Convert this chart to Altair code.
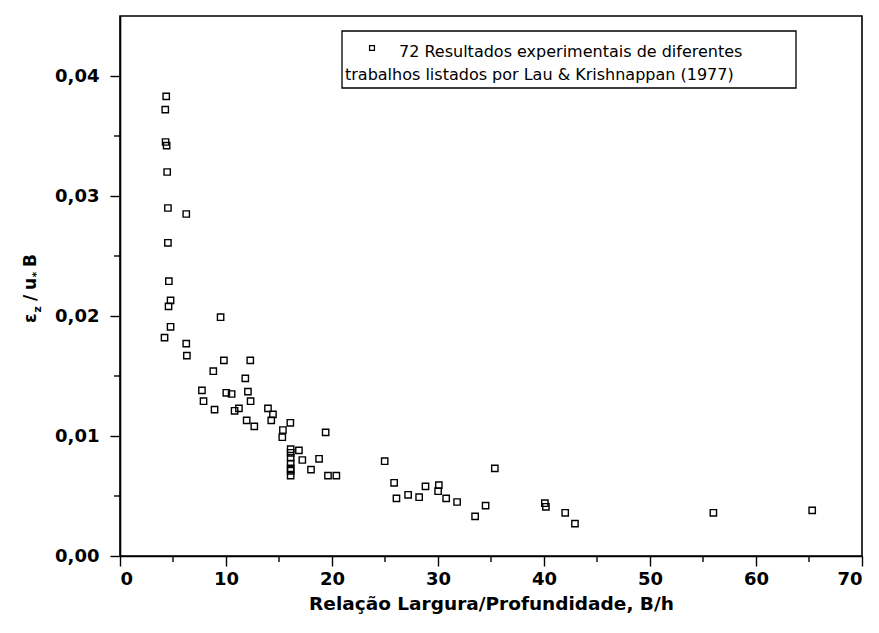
import altair as alt
import pandas as pd

# Width/depth ratio B/h and normalised transverse mixing coefficient eps_z/(u* B)
ratio_bh = [
    4.36, 4.27, 4.30, 4.40, 4.45, 4.52, 6.25, 4.52, 4.61, 4.77,
    4.58, 9.49, 4.77, 4.20, 6.25, 6.31, 9.80, 12.29, 8.80, 11.82,
    7.73, 10.03, 10.53, 12.07, 12.32, 7.88, 8.92, 10.81, 11.22, 13.96,
    14.43, 11.95, 14.27, 12.67, 16.07, 15.37, 15.31, 19.40, 16.10, 16.10,
    16.10, 16.10, 16.10, 16.10, 16.10, 16.88, 17.20, 18.78, 18.02, 19.62,
    20.41, 24.97, 25.86, 26.08, 27.18, 28.22, 28.82, 30.08, 30.01, 30.77,
    31.80, 35.36, 33.50, 34.49, 40.08, 40.18, 42.00, 42.92, 55.98, 65.30,
]
eps_norm = [
    0.0383, 0.0372, 0.0345, 0.0342, 0.0320, 0.0290, 0.0285, 0.0261, 0.0229, 0.0213,
    0.0208, 0.0199, 0.0191, 0.0182, 0.0177, 0.0167, 0.0163, 0.0163, 0.0154, 0.0148,
    0.0138, 0.0136, 0.0135, 0.0137, 0.0129, 0.0129, 0.0122, 0.0121, 0.0123, 0.0123,
    0.0118, 0.0113, 0.0113, 0.0108, 0.0111, 0.0105, 0.0099, 0.0103, 0.0089, 0.0086,
    0.0082, 0.0077, 0.0073, 0.0071, 0.0067, 0.0088, 0.0080, 0.0081, 0.0072, 0.0067,
    0.0067, 0.0079, 0.0061, 0.0048, 0.0051, 0.0049, 0.0058, 0.0059, 0.0054, 0.0048,
    0.0045, 0.0073, 0.0033, 0.0042, 0.0044, 0.0041, 0.0036, 0.0027, 0.0036, 0.0038,
]

x_major = [0, 10, 20, 30, 40, 50, 60, 70]
x_minor = [5, 15, 25, 35, 45, 55, 65]
y_major = [0.00, 0.01, 0.02, 0.03, 0.04]
y_minor = [0.005, 0.015, 0.025, 0.035]

legend_line1 = "72 Resultados experimentais de diferentes"
legend_line2 = "trabalhos listados por Lau & Krishnappan (1977)"
x_title = "Relação Largura/Profundidade, B/h"

FONT = "DejaVu Sans"
W, H = 742, 540
INK = "#000000"

df = pd.DataFrame({"bh": ratio_bh, "eps": eps_norm})
x_scale = alt.Scale(domain=[0, 70], nice=False, zero=False)
y_scale = alt.Scale(domain=[0, 0.045], nice=False, zero=False)

x_axis = alt.Axis(values=x_major, title=x_title, format="d",
                  tickSize=10, labelPadding=4, titlePadding=6,
                  titleFontSize=18.5, labelFontSize=18)
y_axis = alt.Axis(values=y_major, title="",
                  labelExpr="replace(format(datum.value, '.2f'), '.', ',')",
                  tickSize=10, labelPadding=11, labelFontSize=18)

points = alt.Chart(df).mark_point(
    shape="square", filled=False, size=40, strokeWidth=1.4, color=INK, opacity=1
).encode(
    x=alt.X("bh:Q", scale=x_scale, axis=x_axis),
    y=alt.Y("eps:Q", scale=y_scale, axis=y_axis),
)

# minor ticks between the labelled ones
xm = alt.Chart(pd.DataFrame({"bh": x_minor})).mark_rule(color=INK, strokeWidth=1.4).encode(
    x=alt.X("bh:Q", scale=x_scale, axis=x_axis),
    y=alt.value(H), y2=alt.value(H + 6),
)
ym = alt.Chart(pd.DataFrame({"eps": y_minor})).mark_rule(color=INK, strokeWidth=1.4).encode(
    y=alt.Y("eps:Q", scale=y_scale, axis=y_axis),
    x=alt.value(0), x2=alt.value(-6),
)

# legend box
one = pd.DataFrame({"k": [0]})
box = alt.Chart(one).mark_rect(fill="white", stroke=INK, strokeWidth=1.3).encode(
    x=alt.value(222), x2=alt.value(676), y=alt.value(15), y2=alt.value(72)
)
sym = alt.Chart(one).mark_point(shape="square", filled=False, size=24, strokeWidth=1.2,
                                color=INK, opacity=1).encode(
    x=alt.value(252), y=alt.value(32)
)


def label(text, x, y, size, angle=0, weight="normal"):
    return alt.Chart(pd.DataFrame({"t": [text]})).mark_text(
        font=FONT, fontSize=size, color=INK, align="left", baseline="alphabetic",
        angle=angle, fontWeight=weight
    ).encode(text="t:N", x=alt.value(x), y=alt.value(y))


line1 = label(legend_line1, 279, 41, 16)
line2 = label(legend_line2, 225, 64, 16)

# vertical axis title: eps_z / u_* B (reading upwards)
ytitle = [
    label("ε", -84, 307, 17, angle=270, weight="bold"),
    label("z", -79, 296.5, 11, angle=270, weight="bold"),
    label("/", -84, 285, 17, angle=270, weight="bold"),
    label("u", -84, 274, 17, angle=270, weight="bold"),
    label("*", -80, 261.5, 11, angle=270, weight="bold"),
    label("B", -84, 251, 17, angle=270, weight="bold"),
]

chart = alt.layer(points, xm, ym, box, sym, line1, line2, *ytitle).properties(
    width=W, height=H,
    autosize=alt.AutoSizeParams(type="none"),
    padding={"left": 120, "top": 16, "right": 17, "bottom": 77},
    background="white",
).configure_view(
    stroke=INK, strokeWidth=1.6
).configure_axis(
    grid=False, domainColor=INK, domainWidth=1.6, tickColor=INK, tickWidth=1.4,
    labelFont=FONT, labelColor=INK, titleFont=FONT, titleColor=INK,
    labelFontWeight="bold", titleFontWeight="bold",
)

chart.save("out.html", embed_options={"renderer": "svg", "actions": False})
